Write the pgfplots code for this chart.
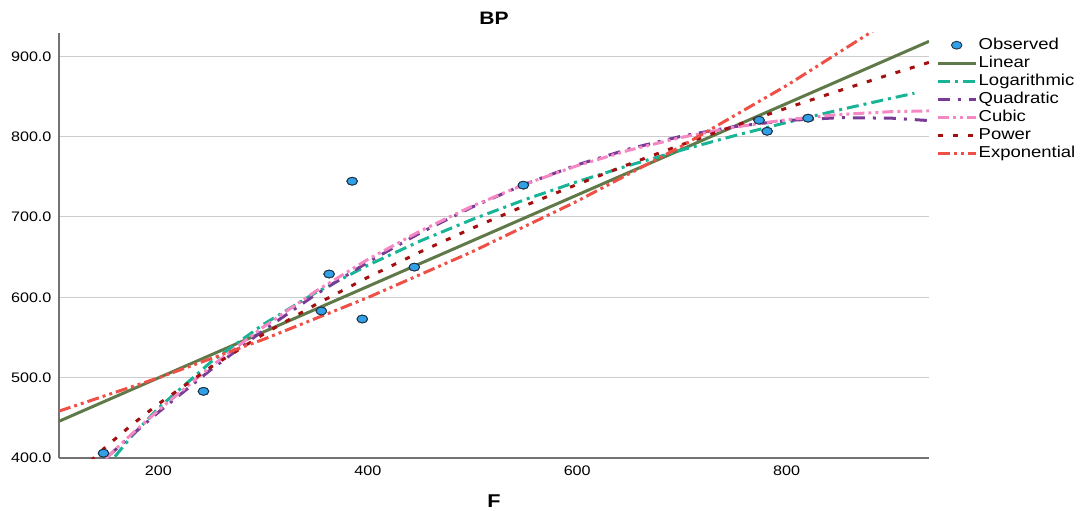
\documentclass[border=0pt]{standalone}
\usepackage{fontspec}
\setmainfont{Liberation Sans}[FakeStretch=1.17]
\usepackage{pgfplots}
\pgfplotsset{compat=1.18}

\definecolor{clin}{RGB}{95,122,72}
\definecolor{clog}{RGB}{24,180,150}
\definecolor{cquad}{RGB}{120,60,150}
\definecolor{ccub}{RGB}{245,135,195}
\definecolor{cpow}{RGB}{165,15,15}
\definecolor{cexp}{RGB}{238,80,72}
\definecolor{cobs}{RGB}{50,160,230}
\definecolor{cobsd}{RGB}{30,50,70}

\pgfplotsset{
    obsmark/.style={only marks, mark=*, mark size=3.9pt,
        mark options={xscale=1.35, fill=cobs, draw=cobsd, line width=0.9pt}},
    obslegend/.style={legend image code/.code={\draw[##1] plot coordinates {(19pt,0pt)};}},
}

% observed points (F, BP)
\pgfplotstableread{
x y
147.5 406
243.0 483
355.6 583
363.0 629
385.0 744.5
394.7 573
444.4 637.6
548.5 739.6
773.7 820.4
781.4 806.7
820.5 823
}\obsdata

\begin{document}
\begin{tikzpicture}
\begin{axis}[
    width=870pt, height=425pt, scale only axis,
    xmin=105, xmax=936, ymin=400, ymax=929,
    xtick={200,400,600,800},
    ytick={400,500,600,700,800,900},
    /pgf/number format/assume math mode=true,
    yticklabel style={font=\fontsize{13.8}{16}\selectfont, anchor=east, xshift=-4pt,
        /pgf/number format/.cd,fixed,fixed zerofill,precision=1},
    xticklabel style={font=\fontsize{13.8}{16}\selectfont, anchor=base, yshift=-17pt},
    major tick length=0pt,
    tick style={draw=none},
    axis x line*=bottom, axis y line*=left,
    axis line style={-, line width=1.5pt, color=black!55},
    ymajorgrids,
    grid style={draw=black!20, line width=1pt},
    title={\bfseries BP},
    title style={font=\fontsize{18}{20}\selectfont, at={(axis description cs:0.5,1)}, anchor=base, yshift=2pt},
    xlabel={\bfseries F},
    xlabel style={font=\fontsize{18.5}{20}\selectfont, at={(axis description cs:0.5,0)}, anchor=base, yshift=-49pt},
    legend style={at={(axis description cs:1,1)}, anchor=north west, xshift=7pt, yshift=-3pt,
        draw=none, fill=none, inner sep=0pt, row sep=0pt,
        font=\fontsize{15.8}{18}\selectfont,
        nodes={inner sep=1.5pt, text height=11.8pt, text depth=3.2pt}},
    legend cell align=left,
    legend image code/.code={\draw[#1] (0pt,0pt) -- (38pt,0pt);},
    every axis plot/.append style={line width=3pt},
]
\addplot[obsmark, obslegend] table {\obsdata};
\addlegendentry{Observed}

\addplot[clin, no marks] coordinates {(105,445.7) (936,918.6)};
\addlegendentry{Linear}

\addplot[clog, no marks, dash pattern=on 12pt off 5pt on 3pt off 5pt] coordinates {
(130,351.7) (150,388.4) (175,428.0) (200,462.2) (250,519.4) (300,566.2) (350,605.7)
(400,639.9) (450,670.1) (500,697.1) (550,721.6) (600,743.9) (650,764.4) (700,783.4)
(750,801.1) (800,817.6) (850,833.2) (900,847.8) (922,854.0)};
\addlegendentry{Logarithmic}

\addplot[cquad, no marks, dash pattern=on 12pt off 8pt on 3pt off 8pt] coordinates {
(130,376.0) (150,400.0) (175,429.0) (200,457.0) (250,509.9) (300,558.6) (350,603.3)
(400,643.8) (450,680.2) (500,712.6) (550,740.8) (600,764.9) (650,784.9) (700,800.7)
(750,812.5) (800,820.1) (850,823.6) (900,823.0) (936,820.0)};
\addlegendentry{Quadratic}

\addplot[ccub, no marks, dash pattern=on 11pt off 4pt on 3pt off 4pt on 3pt off 4pt] coordinates {
(130,374.7) (150,400.0) (175,430.4) (200,459.4) (250,513.7) (300,562.9) (350,607.4)
(400,647.2) (450,682.5) (500,713.7) (550,740.8) (600,763.9) (650,783.3) (700,799.2)
(750,811.8) (800,821.1) (850,827.5) (900,831.1) (936,832.0)};
\addlegendentry{Cubic}

\addplot[cpow, no marks, dash pattern=on 5pt off 10pt] coordinates {
(105,356.7) (130,390.1) (150,414.2) (175,441.8) (200,467.3) (250,513.1) (300,553.9)
(350,590.9) (400,624.9) (450,656.5) (500,686.2) (550,714.1) (600,740.6) (650,766.0)
(700,790.1) (750,813.3) (800,835.6) (850,857.1) (900,877.9) (936,892.4)};
\addlegendentry{Power}

\addplot[cexp, no marks, dash pattern=on 12pt off 4pt on 3pt off 4pt on 3pt off 4pt] coordinates {
(105,458.3) (200,499.8) (300,547.5) (400,599.7) (500,656.9) (600,719.7) (700,788.4)
(800,863.6) (900,946.0) (936,977.6)};
\addlegendentry{Exponential}

% points again on top of the fit lines
\addplot[obsmark, forget plot] table {\obsdata};
\end{axis}
\path (-59pt,-50pt) rectangle (1024pt,458pt);
\end{tikzpicture}
\end{document}
